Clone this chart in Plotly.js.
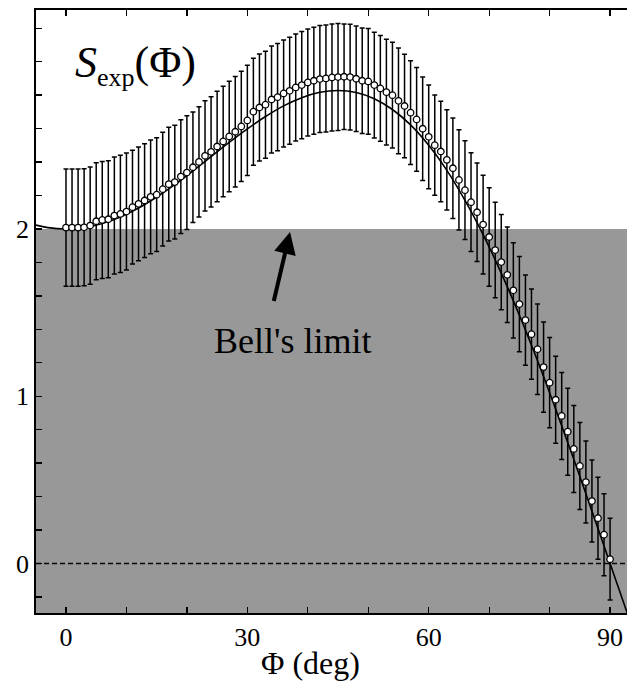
<!DOCTYPE html>
<html>
<head>
<meta charset="utf-8">
<script src="https://cdn.plot.ly/plotly-3.0.1.min.js"></script>
<style>html,body{margin:0;padding:0;background:#fff;}#chart{width:628px;height:682px;}</style>
</head>
<body>
<div id="chart"></div>
<script>
// Measured points (deg) and values
var phi = [0,1,2,3,4,5,6,7,8,9,10,11,12,13,14,15,16,17,18,19,20,21,22,23,24,25,26,27,28,29,30,
  31,32,33,34,35,36,37,38,39,40,41,42,43,44,45,46,47,48,49,50,51,52,53,54,55,56,57,58,59,60,
  61,62,63,64,65,66,67,68,69,70,71,72,73,74,75,76,77,78,79,80,81,82,83,84,85,86,87,88,89,90];
var sExp = [2.008,2.008,2.008,2.010,2.020,2.046,2.054,2.058,2.080,2.090,2.104,
  2.130,2.150,2.170,2.192,2.205,2.238,2.268,2.280,2.313,2.337,
  2.369,2.401,2.437,2.461,2.493,2.523,2.553,2.581,2.613,2.649,
  2.701,2.726,2.743,2.774,2.788,2.810,2.826,2.846,2.860,2.876,
  2.886,2.896,2.900,2.906,2.908,2.910,2.908,2.898,2.886,2.882,
  2.860,2.840,2.818,2.800,2.766,2.735,2.695,2.655,2.599,2.551,
  2.501,2.463,2.413,2.363,2.293,2.232,2.160,2.100,2.026,1.952,
  1.874,1.802,1.726,1.633,1.551,1.455,1.371,1.281,1.174,1.081,
  0.979,0.882,0.788,0.685,0.583,0.487,0.373,0.271,0.172,0.026];
var sErr = [0.35,0.35,0.35,0.35,0.35,0.35,0.35,0.35,0.35,0.35,0.35,
  0.34,0.34,0.34,0.34,0.34,0.34,0.34,0.34,0.34,0.34,
  0.33,0.33,0.33,0.33,0.33,0.33,0.33,0.33,0.33,0.33,
  0.32,0.32,0.32,0.32,0.32,0.32,0.32,0.32,0.32,0.32,0.32,0.32,0.32,0.32,0.32,
  0.316,0.316,0.316,0.316,0.316,0.316,0.316,0.316,0.316,0.316,
  0.31,0.31,0.31,0.31,0.31,
  0.30,0.30,0.30,0.30,0.30,
  0.295,0.295,0.295,0.295,0.295,
  0.285,0.285,0.285,0.285,0.285,
  0.27,0.27,0.27,0.27,0.27,
  0.26,0.26,0.26,0.26,0.26,
  0.245,0.245,0.245,0.245,0.245];
// Theory curve
var curvePhi = [-5,-3,0,3,6,9,12,15,18,21,24,27,30,33,36,39,42,45,48,51,54,57,60,63,66,69,72,75,78,81,84,87,90,93];
var curveS = [2.023,2.008,2.000,2.008,2.033,2.072,2.125,2.191,2.265,2.347,2.432,2.517,2.598,2.672,2.736,2.785,2.817,2.828,
  2.816,2.779,2.714,2.622,2.500,2.350,2.171,1.966,1.736,1.484,1.212,0.923,0.623,0.313,0.000,-0.313];
var bellLimit = 2;
var xTicks = [0,10,20,30,40,50,60,70,80,90];
var xTickText = ['0','','','30','','','60','','','90'];
var yTicks = [-0.2,0,0.2,0.4,0.6,0.8,1,1.2,1.4,1.6,1.8,2,2.2,2.4,2.6,2.8,3,3.2];
var yTickText = ['','0','','','','','1','','','','','2','','','','','',''];

var serif = '"Liberation Serif", "Times New Roman", serif';

var traces = [
  {x: curvePhi, y: curveS, mode: 'lines', line: {color: '#000', width: 1.6, shape: 'spline'}, hoverinfo: 'skip'},
  {x: phi, y: sExp, mode: 'markers',
   marker: {symbol: 'circle', size: 6.5, color: '#fff', line: {color: '#000', width: 1.3}},
   error_y: {type: 'data', array: sErr, visible: true, color: '#000', thickness: 1.5, width: 2.5}}
];

var layout = {
  width: 628, height: 682,
  margin: {l: 36, r: 1, t: 10, b: 69},
  paper_bgcolor: '#fff', plot_bgcolor: '#fff',
  showlegend: false,
  font: {family: serif, color: '#000', size: 26},
  xaxis: {range: [-4.96, 92.8], tickmode: 'array', tickvals: xTicks, ticktext: xTickText,
    ticks: 'inside', ticklen: 6, tickwidth: 1.3, tickcolor: '#000',
    showline: true, linecolor: '#000', linewidth: 1.8, mirror: 'ticks',
    showgrid: false, zeroline: false,
    tickfont: {family: serif, size: 26, color: '#000'}},
  yaxis: {range: [-0.296, 3.309], tickmode: 'array', tickvals: yTicks, ticktext: yTickText,
    ticks: 'inside', ticklen: 6, tickwidth: 1.3, tickcolor: '#000',
    showline: true, linecolor: '#000', linewidth: 1.8, mirror: false,
    showgrid: false, zeroline: false,
    tickfont: {family: serif, size: 26, color: '#000'}},
  shapes: [
    {type: 'rect', xref: 'paper', yref: 'y', x0: 0, x1: 1, y0: -1, y1: bellLimit,
     fillcolor: '#989898', line: {width: 0}, layer: 'below'},
    {type: 'line', xref: 'paper', yref: 'y', x0: 0, x1: 1, y0: 0, y1: 0,
     line: {color: '#000', width: 1.5, dash: '5px,3px'}, layer: 'below'}
  ],
  annotations: [
    {xref: 'paper', yref: 'paper', x: 0.465, y: -0.0835, xanchor: 'center', yanchor: 'middle', showarrow: false,
     text: 'Φ (deg)', font: {family: serif, size: 32, color: '#000'}},
    {xref: 'x', yref: 'y', x: 1.1, y: 2.98, xanchor: 'left', yanchor: 'middle', showarrow: false,
     text: '<i>S</i><sub><span style="font-size:26px">exp</span></sub>(Φ)', font: {family: serif, size: 44, color: '#000'}},
    {xref: 'x', yref: 'y', x: 37.5, y: 1.33, xanchor: 'center', yanchor: 'middle', showarrow: false,
     text: "Bell's limit", font: {family: serif, size: 36, color: '#000'}},
    {xref: 'x', yref: 'y', x: 37.06, y: 1.982, ax: -20, ay: 85, axref: 'pixel', ayref: 'pixel',
     text: ' ', showarrow: true, arrowhead: 2, arrowsize: 1.1, arrowwidth: 4, arrowcolor: '#000'}
  ]
};

Plotly.newPlot('chart', traces, layout, {displayModeBar: false, staticPlot: true});
</script>
</body>
</html>
